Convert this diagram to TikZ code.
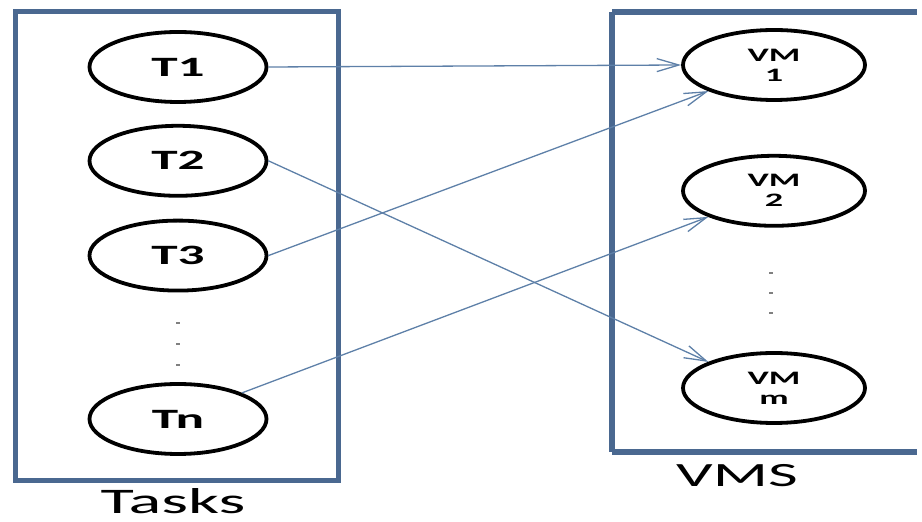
\documentclass[tikz,border=0pt]{standalone}
\usepackage{fontspec}
\setmainfont{Carlito}
\newfontfamily\widefont[FakeStretch=1.9]{Carlito}
\usepackage{tikz}
\usetikzlibrary{arrows.meta,positioning,shapes.geometric}
\definecolor{Frame}{HTML}{4A6890}
\definecolor{Link}{HTML}{5E80A8}

\begin{document}
\begin{tikzpicture}[x=1pt,y=1pt,>={Straight Barb[length=22pt,width=13pt]},node distance=20pt,
  job/.style={draw,ellipse,line width=3.8pt,minimum width=177pt,minimum height=70pt,inner sep=0pt,
    font=\widefont\bfseries\fontsize{28}{28}\selectfont},
  vm/.style={draw,ellipse,line width=3.8pt,minimum width=182pt,minimum height=70pt,inner sep=0pt,
    align=center,font=\widefont\bfseries\fontsize{19}{20}\selectfont},
  link/.style={->,draw=Link,line width=1.3pt}]
  \useasboundingbox (0,0) rectangle (922,522);
  % the two frames
  \draw[Frame,line width=5pt] (15,41) rectangle (338,510);
  \draw[Frame,line width=5.5pt] (612,510) -- (612,70);
  \draw[Frame,line width=5.5pt] (612,510) -- (917,510);
  \draw[Frame,line width=5.5pt] (612,70) -- (917,70);
  % tasks
  \node[job] (t1) at (178,455) {T1};
  \node[job,below=of t1] (t2) {T2};
  \node[job,below=21pt of t2] (t3) {T3};
  \node[job] (tn) at (178,103) {Tn};
  % virtual machines
  \node[vm] (vm1) at (774,457) {VM\\1};
  \node[vm,below=52pt of vm1] (vm2) {VM\\2};
  \node[vm] (vmm) at (774,134) {VM\\m};
  % dots
  \foreach \y in {157,178,199} \fill[gray] (176,\y-1) rectangle (180,\y+1);
  \foreach \y in {209,229,249} \fill[gray] (769,\y-1) rectangle (773,\y+1);
  % labels
  \node[font=\widefont\fontsize{36}{36}\selectfont] (tasks) at (173,21) {Tasks};
  \node[font=\widefont\fontsize{34}{34}\selectfont] (vms) at (737,46) {VMS};
  % mapping
  \draw[link] (t1.east) -- (vm1.west);
  \draw[link] (t2.east) -- (vmm.north west);
  \draw[link] (t3.east) -- (vm1.south west);
  \draw[link] (tn.north east) -- (vm2.south west);
\end{tikzpicture}
\end{document}
